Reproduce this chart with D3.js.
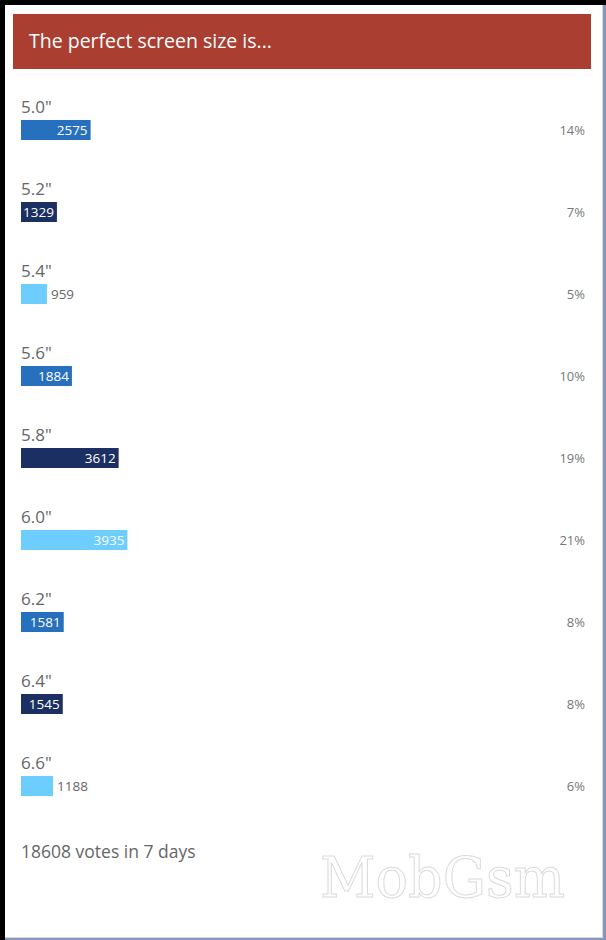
<!DOCTYPE html>
<html><head><meta charset="utf-8">
<script src="https://cdn.jsdelivr.net/npm/d3@7"></script>
<style>html,body{margin:0;padding:0;background:#000;}svg{display:block;}</style>
</head><body>
<svg id="c" width="606" height="940"></svg>
<script>
const title = "The perfect screen size is...";
const categories = ['5.0"', '5.2"', '5.4"', '5.6"', '5.8"', '6.0"', '6.2"', '6.4"', '6.6"'];
const votes = [2575, 1329, 959, 1884, 3612, 3935, 1581, 1545, 1188];
const percents = ["14%", "7%", "5%", "10%", "19%", "21%", "8%", "8%", "6%"];
const colors = ["#2670bd", "#1b2f63", "#6ecdff"];
const footer = "18608 votes in 7 days";
const watermark = "MobGsm";

const svg = d3.select("#c");
const total = d3.sum(votes);

// panel
svg.append("rect").attr("x",5).attr("y",5).attr("width",601).attr("height",935).attr("fill","#8797bf");
svg.append("rect").attr("x",5).attr("y",5).attr("width",598).attr("height",933).attr("fill","#d8d8d8");
svg.append("rect").attr("x",5).attr("y",5).attr("width",597).attr("height",932).attr("fill","#fff");

// header
svg.append("rect").attr("x",13).attr("y",14).attr("width",578).attr("height",55).attr("fill","#a93e31");
svg.append("text").attr("x",29).attr("y",48).attr("fill","#fff")
  .style("font-family","'Open Sans', sans-serif").style("font-size","19.5px").text(title);

const y = d3.scaleBand().domain(categories).range([94, 832]).paddingInner(0);
const x = d3.scaleLinear().domain([0, total]).range([21, 524]);

const rows = svg.append("g").selectAll("g").data(categories).join("g")
  .attr("transform", d => `translate(0,${y(d)})`);

rows.append("text").attr("x",21).attr("y",19).attr("fill","#666")
  .style("font-family","'Open Sans', sans-serif").style("font-size","17px").text(d => d);

rows.append("rect").attr("x",21).attr("y",26)
  .attr("width",(d,i) => x(votes[i]) - x(0)).attr("height",20)
  .attr("fill",(d,i) => colors[i % 3]);

rows.each(function(d,i){
  const g = d3.select(this);
  const w = x(votes[i]) - x(0);
  const t = g.append("text").attr("y",41)
    .style("font-family","'Open Sans', sans-serif").style("font-size","13.5px").text(votes[i]);
  const tw = t.node().getComputedTextLength();
  if (tw + 4 <= w) {
    t.attr("x", x(votes[i]) - 3).attr("text-anchor","end").attr("fill","#fff");
  } else {
    t.attr("x", x(votes[i]) + 4).attr("fill","#666");
  }
});

rows.append("text").attr("x",585).attr("y",41).attr("text-anchor","end").attr("fill","#777")
  .style("font-family","'Open Sans', sans-serif").style("font-size","13px").text((d,i) => percents[i]);

svg.append("text").attr("x",21).attr("y",858).attr("fill","#666")
  .style("font-family","'Open Sans', sans-serif").style("font-size","17.5px").text(footer);

svg.append("text").attr("x",320).attr("y",897).attr("fill","#fff").attr("stroke","#dadada").attr("stroke-width",1)
  .attr("textLength",245).attr("lengthAdjust","spacingAndGlyphs")
  .style("font-family","'DejaVu Serif', serif").style("font-size","56px").text(watermark);
</script>
</body></html>
